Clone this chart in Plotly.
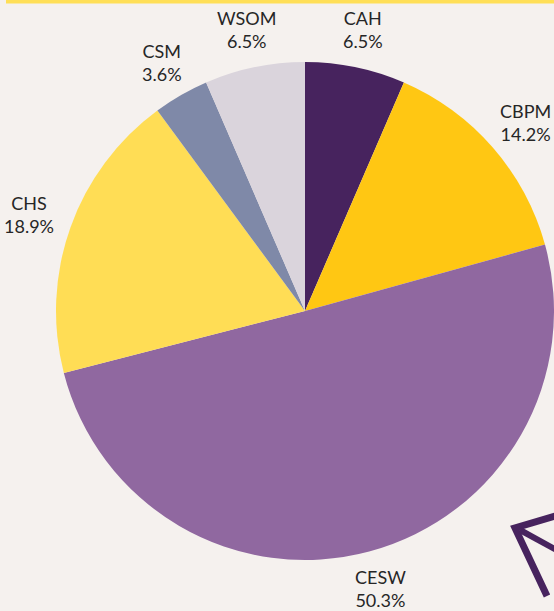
import math
import plotly.graph_objects as go

labels = ["CAH", "CBPM", "CESW", "CHS", "CSM", "WSOM"]
values = [6.5, 14.2, 50.3, 18.9, 3.6, 6.5]
colors = ["#47235e", "#ffc713", "#9068a0", "#ffdd55", "#7f89a8", "#dad4dc"]

W, H = 554, 611
L, R, T, B = 56, 0, 62, 51
PW, PH = W - L - R, H - T - B

def px(x):
    return (x - L) / PW

def py(y):
    return (H - B - y) / PH

fig = go.Figure(go.Pie(
    labels=labels,
    values=values,
    marker=dict(colors=colors, line=dict(width=0)),
    sort=False,
    direction="clockwise",
    rotation=0,
    textinfo="none",
    showlegend=False,
    hoverinfo="label+percent",
))

# outside labels placed along each slice's mid-angle
cx, cy = L + PW / 2, T + PH / 2
label_r = 266
total = sum(values)
annotations = []
cum = 0.0
for lab, v in zip(labels, values):
    mid = (cum + v / 2) / total * 2 * math.pi
    cum += v
    dx, dy = math.sin(mid), -math.cos(mid)
    pct = f"{v / total * 100:.1f}%"
    w = 10.8 * max(len(lab), len(pct))
    h = 42
    x = cx + dx * label_r + dx * w / 2
    y = cy + dy * label_r + dy * h / 2
    annotations.append(dict(
        x=px(x), y=py(y), xref="paper", yref="paper",
        text=f"{lab}<br>{pct}", showarrow=False,
        xanchor="center", yanchor="middle",
        font=dict(family="Lato", size=18, color="#262626"),
    ))

def pt(x, y):
    return f"{px(x):.5f},{py(y):.5f}"

shapes = [
    dict(type="rect", xref="paper", yref="paper",
         x0=px(6), x1=px(560), y0=py(-2), y1=py(3.5),
         fillcolor="#ffdf57", line=dict(width=0), layer="above"),
    # decorative arrow
    dict(type="path", xref="paper", yref="paper",
         path=f"M {pt(562, 514)} L {pt(515, 528)} L {pt(547, 596)}",
         line=dict(color="#47235e", width=7), fillcolor="rgba(0,0,0,0)", layer="above"),
    dict(type="path", xref="paper", yref="paper",
         path=f"M {pt(520, 530)} L {pt(562, 553)}",
         line=dict(color="#47235e", width=6), fillcolor="rgba(0,0,0,0)", layer="above"),
]

fig.update_layout(
    width=W, height=H,
    margin=dict(l=L, r=R, t=T, b=B),
    paper_bgcolor="#f5f1ee",
    plot_bgcolor="#f5f1ee",
    shapes=shapes,
    annotations=annotations,
)

fig.write_html("out.html", config={"displayModeBar": False},
               post_script="document.body.style.margin='0';document.body.style.background='#f5f1ee';")
